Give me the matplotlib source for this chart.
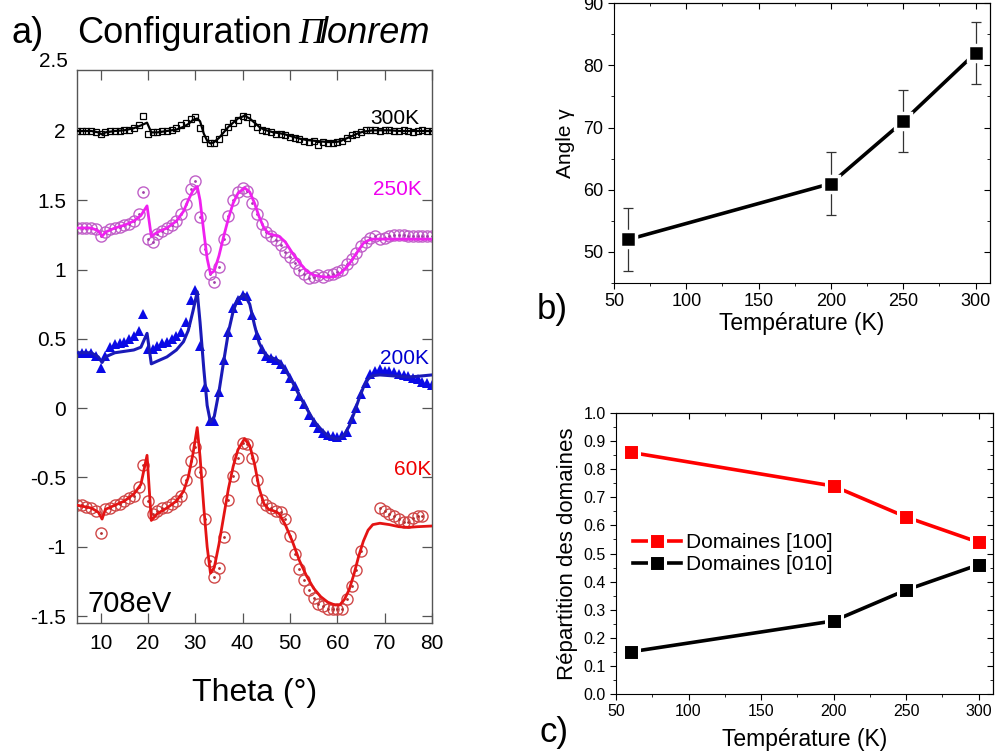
import numpy as np
import matplotlib.pyplot as plt
from matplotlib.ticker import MultipleLocator

plt.rcParams['font.family'] = ['Liberation Sans', 'DejaVu Sans']
nan = np.nan

# ---- panel a : rocking curves at 708 eV ----
theta_pts = [5, 6, 7, 8, 9, 10, 11, 12, 13, 14,
             15, 16, 17, 18, 19, 20, 21, 22, 23, 24,
             25, 26, 27, 28, 29, 30, 31, 32, 33, 34,
             35, 36, 37, 38, 39, 40, 41, 42, 43, 44,
             45, 46, 47, 48, 49, 50, 51, 52, 53, 54,
             55, 56, 57, 58, 59, 60, 61, 62, 63, 64,
             65, 66, 67, 68, 69, 70, 71, 72, 73, 74,
             75, 76, 77, 78, 79, 80]

pts_300 = [2.00, 2.00, 2.00, 2.00, 1.99, 1.975, 1.99, 2.00, 2.00, 2.00,
           2.01, 2.01, 2.02, 2.04, 2.11, 1.98, 1.99, 1.99, 2.00, 2.00,
           2.01, 2.02, 2.04, 2.06, 2.09, 2.10, 2.02, 1.94, 1.91, 1.91,
           1.94, 1.99, 2.03, 2.06, 2.08, 2.11, 2.10, 2.06, 2.03, 2.01,
           2.00, 1.99, 1.98, 1.98, 1.97, 1.96, 1.95, 1.94, 1.93, 1.92,
           1.93, 1.90, 1.92, 1.91, 1.915, 1.92, 1.93, 1.95, 1.97, 1.98,
           1.99, 2.01, 2.01, 2.01, 2.00, 2.01, 2.01, 2.00, 2.00, 2.01,
           2.00, 1.99, 2.00, 2.01, 2.00, 2.00]

pts_250 = [1.30, 1.30, 1.30, 1.30, 1.29, 1.24, 1.27, 1.29, 1.30, 1.31,
           1.32, 1.33, 1.35, 1.40, 1.56, 1.22, 1.20, 1.26, 1.28, 1.30,
           1.32, 1.35, 1.40, 1.47, 1.58, 1.64, 1.38, 1.15, 0.97, 0.91,
           1.02, 1.22, 1.39, 1.50, 1.56, 1.59, 1.57, 1.48, 1.40, 1.33,
           1.27, 1.24, 1.21, 1.18, 1.13, 1.09, 1.05, 1.00, 0.97, 0.94,
           0.95, 0.96, 0.95, 0.96, 0.97, 0.98, 1.00, 1.04, 1.08, 1.12,
           1.17, 1.20, 1.23, 1.24, 1.22, 1.23, 1.24, 1.25, 1.25, 1.25,
           1.24, 1.24, 1.24, 1.24, 1.24, 1.24]

pts_200 = [0.40, 0.40, 0.40, 0.40, 0.38, 0.29, 0.38, 0.44, 0.46, 0.47,
           0.48, 0.50, 0.52, 0.56, 0.68, 0.43, 0.43, 0.45, 0.47, 0.48,
           0.50, 0.52, 0.55, 0.62, 0.78, 0.85, 0.45, 0.15, -0.09, -0.09,
           0.12, 0.35, 0.55, 0.72, 0.78, 0.82, 0.81, 0.67, 0.53, 0.43,
           0.38, 0.36, 0.35, 0.32, 0.28, 0.22, 0.16, 0.09, 0.03, -0.05,
           -0.10, -0.14, -0.18, -0.19, -0.20, -0.21, -0.19, -0.17, -0.08, 0.00,
           0.10, 0.18, 0.25, 0.27, 0.28, 0.27, 0.27, 0.26, 0.25, 0.24,
           0.23, 0.22, 0.21, 0.19, 0.18, 0.17]

pts_60 = [-0.70, -0.70, -0.71, -0.72, -0.74, -0.90, -0.73, -0.72, -0.70, -0.69,
          -0.67, -0.65, -0.63, -0.57, -0.41, -0.67, -0.76, -0.74, -0.72, -0.71,
          -0.69, -0.67, -0.63, -0.52, -0.38, -0.28, -0.46, -0.80, -1.10, -1.22,
          -1.15, -0.93, -0.66, -0.49, -0.36, -0.25, -0.26, -0.36, -0.52, -0.66,
          -0.70, -0.72, -0.74, -0.75, -0.80, -0.92, -1.05, -1.16, -1.24, -1.31,
          -1.37, -1.41, -1.43, -1.45, -1.45, -1.45, -1.45, -1.38, -1.28, -1.17,
          -1.03, nan, nan, nan, -0.72, -0.74, -0.76, -0.78, -0.80, -0.82,
          -0.82, -0.79, -0.78, -0.78, nan, nan]

theta_fit = [5, 8, 9.5, 10.3, 11, 13, 15, 17, 18.5, 19.8,
             20.7, 22, 24, 26, 27.5, 28.5, 29.5, 30.4, 31, 31.8,
             32.5, 33.2, 34, 35, 36, 37, 38, 39, 40.4, 41.5,
             42.5, 43.5, 44.5, 45.5, 46.5, 47.7, 49, 50.5, 52, 53.5,
             55, 56.5, 58, 59.5, 60.5, 61.5, 62.5, 63.5, 64.5, 65.5,
             66.5, 67.5, 69, 71, 73, 75, 77, 80]

fit_300 = [2.00, 2.00, 1.99, 1.975, 1.99, 2.00, 2.005, 2.02, 2.04, 2.06,
           1.99, 1.99, 2.00, 2.01, 2.03, 2.05, 2.08, 2.09, 2.07, 1.98,
           1.93, 1.91, 1.92, 1.95, 1.99, 2.03, 2.06, 2.09, 2.11, 2.09,
           2.06, 2.03, 2.01, 2.00, 1.99, 1.985, 1.975, 1.96, 1.945, 1.935,
           1.93, 1.925, 1.92, 1.92, 1.925, 1.94, 1.955, 1.97, 1.985, 1.995,
           2.00, 2.005, 2.005, 2.005, 2.00, 2.00, 2.00, 2.00]

fit_250 = [1.30, 1.30, 1.28, 1.24, 1.27, 1.30, 1.32, 1.35, 1.39, 1.46,
           1.24, 1.27, 1.30, 1.35, 1.42, 1.50, 1.57, 1.60, 1.50, 1.27,
           1.08, 0.97, 0.99, 1.10, 1.24, 1.37, 1.48, 1.55, 1.59, 1.56,
           1.48, 1.38, 1.30, 1.26, 1.25, 1.24, 1.20, 1.12, 1.05, 0.99,
           0.96, 0.95, 0.945, 0.95, 0.97, 1.00, 1.04, 1.09, 1.14, 1.19,
           1.21, 1.22, 1.22, 1.22, 1.22, 1.22, 1.22, 1.22]

fit_200 = [0.40, 0.40, 0.37, 0.33, 0.37, 0.40, 0.41, 0.42, 0.44, 0.54,
           0.32, 0.34, 0.37, 0.42, 0.48, 0.56, 0.70, 0.84, 0.62, 0.28,
           0.02, -0.10, -0.06, 0.12, 0.34, 0.55, 0.70, 0.79, 0.82, 0.75,
           0.60, 0.47, 0.40, 0.37, 0.36, 0.34, 0.28, 0.19, 0.09, 0.00,
           -0.09, -0.15, -0.20, -0.22, -0.22, -0.19, -0.13, -0.04, 0.06, 0.15,
           0.21, 0.235, 0.24, 0.235, 0.23, 0.225, 0.23, 0.24]

fit_60 = [-0.70, -0.72, -0.75, -0.80, -0.73, -0.70, -0.67, -0.62, -0.55, -0.34,
          -0.81, -0.76, -0.72, -0.67, -0.60, -0.50, -0.33, -0.14, -0.35, -0.72,
          -1.00, -1.19, -1.15, -0.98, -0.78, -0.58, -0.42, -0.30, -0.22, -0.27,
          -0.40, -0.58, -0.69, -0.73, -0.74, -0.76, -0.84, -0.96, -1.10, -1.21,
          -1.30, -1.36, -1.40, -1.42, -1.42, -1.38, -1.31, -1.20, -1.07, -0.96,
          -0.88, -0.84, -0.83, -0.84, -0.855, -0.86, -0.855, -0.85]

# ---- panels b and c ----
temps = [60, 200, 250, 300]
angle = [52, 61, 71, 82]
angle_err = [5, 5, 5, 5]
dom_100 = [0.86, 0.74, 0.63, 0.54]
dom_010 = [0.15, 0.26, 0.37, 0.46]

fig = plt.figure(figsize=(9.96, 7.56), dpi=100)

# title of panel a
fig.text(0.012, 0.943, "a)", fontsize=26, va='baseline')
fig.text(0.0773, 0.943, "Configuration", fontsize=26, va='baseline')
fig.text(0.2995, 0.943, "\u03a0", fontsize=26, va='baseline',
         family='Liberation Serif', style='italic')
fig.text(0.3205, 0.943, "lonrem", fontsize=26, va='baseline', style='italic')

# ---------------- panel a ----------------
ax = fig.add_axes([0.0773, 0.1759, 0.3564, 0.7315])
grey = '#555555'

ax.plot(theta_fit, fit_300, color='black', lw=1.6, zorder=3)
ax.plot(theta_pts, pts_300, ls='none', marker='s', ms=4.5, mfc='none',
        mec='black', mew=0.9, zorder=2)

ax.plot(theta_fit, fit_250, color='#f020f0', lw=2.0, zorder=3)
ax.plot(theta_pts, pts_250, ls='none', marker='o', ms=8, mfc='none',
        mec='#c060c8', mew=1.0, zorder=2)
ax.plot(theta_pts, pts_250, ls='none', marker='.', ms=2, color='#a040a8', zorder=2)

ax.plot(theta_fit, fit_200, color='#1a1ab8', lw=2.2, zorder=3)
ax.plot(theta_pts, pts_200, ls='none', marker='^', ms=7.5, color='#0a0ae6',
        mew=0, zorder=2)

ax.plot(theta_fit, fit_60, color='#e41414', lw=2.0, zorder=3)
ax.plot(theta_pts, pts_60, ls='none', marker='o', ms=8, mfc='none',
        mec='#d04848', mew=1.0, zorder=2)
ax.plot(theta_pts, pts_60, ls='none', marker='.', ms=2, color='#b03030', zorder=2)

ax.text(72.1, 2.087, "300K", fontsize=15, ha='center', va='center', color='black')
ax.text(72.7, 1.58, "250K", fontsize=15, ha='center', va='center', color='#ee00ee')
ax.text(74.2, 0.355, "200K", fontsize=15, ha='center', va='center', color='#0000d0')
ax.text(75.9, -0.44, "60K", fontsize=15, ha='center', va='center', color='#ee0000')
ax.text(7.3, -1.41, "708eV", fontsize=21, ha='left', va='center', color='black')

ax.set_xlim(5, 80)
ax.set_ylim(-1.55, 2.44)
ax.set_xticks([10, 20, 30, 40, 50, 60, 70, 80])
ax.set_yticks([-1.5, -1, -0.5, 0, 0.5, 1, 1.5, 2])
ax.set_yticklabels(['-1.5', '-1', '-0.5', '0', '0.5', '1', '1.5', '2'])
ax.text(-0.025, 2.5, "2.5", fontsize=15, ha='right', va='center',
        transform=ax.get_yaxis_transform())
ax.tick_params(direction='in', length=7, width=0.9, color=grey,
               top=True, right=True, labelsize=15, pad=8)
for s in ax.spines.values():
    s.set_color(grey)
    s.set_linewidth(1.0)
ax.set_xlabel("Theta (\u00b0)", fontsize=23, labelpad=18)

# ---------------- panel b ----------------
axb = fig.add_axes([0.6165, 0.6257, 0.3775, 0.370])
axb.errorbar(temps, angle, yerr=angle_err, fmt='none', ecolor='#333333',
             elinewidth=0.9, capsize=3.5, capthick=0.9, zorder=2)
axb.plot(temps, angle, color='black', lw=2.6, marker='s', ms=12, mfc='black',
         mec='white', mew=2.5, zorder=3)
axb.set_xlim(50, 310)
axb.set_ylim(45, 90)
axb.set_xticks([50, 100, 150, 200, 250, 300])
axb.set_yticks([50, 60, 70, 80, 90])
axb.xaxis.set_minor_locator(MultipleLocator(25))
axb.yaxis.set_minor_locator(MultipleLocator(5))
axb.tick_params(which='major', direction='out', length=4, labelsize=13)
axb.tick_params(which='minor', direction='out', length=2.5)
axb.set_xlabel("Temp\u00e9rature (K)", fontsize=16.5, labelpad=1)
axb.set_ylabel("Angle \u03b3", fontsize=15, labelpad=6)

# ---------------- panel c ----------------
axc = fig.add_axes([0.6185, 0.082, 0.3785, 0.3717])
axc.plot(temps, dom_100, color='#ff0000', lw=2.6, marker='s', ms=11,
         mfc='#ff0000', mec='white', mew=2.2, label="Domaines [100]")
axc.plot(temps, dom_010, color='black', lw=2.6, marker='s', ms=11,
         mfc='black', mec='white', mew=2.2, label="Domaines [010]")
axc.set_xlim(50, 310)
axc.set_ylim(0, 1.0)
axc.set_xticks([50, 100, 150, 200, 250, 300])
axc.set_yticks(np.round(np.arange(0, 1.01, 0.1), 1))
axc.xaxis.set_minor_locator(MultipleLocator(25))
axc.yaxis.set_minor_locator(MultipleLocator(0.05))
axc.tick_params(which='major', direction='out', length=4, labelsize=11.5)
axc.tick_params(which='minor', direction='out', length=2.5)
axc.set_xlabel("Temp\u00e9rature (K)", fontsize=16.5, labelpad=6)
axc.set_ylabel("R\u00e9partition des domaines", fontsize=16, labelpad=4)
axc.legend(loc='upper left', bbox_to_anchor=(-0.005, 0.64), frameon=False,
           fontsize=15, handlelength=2.3, handletextpad=0.25, labelspacing=0.15)

# mirrored inward ticks on top / right for b and c
for a in (axb, axc):
    top = a.secondary_xaxis('top')
    top.set_xticks(a.get_xticks())
    top.xaxis.set_minor_locator(MultipleLocator(25))
    top.tick_params(which='major', direction='in', length=4, labeltop=False)
    top.tick_params(which='minor', direction='in', length=2.5)
    right = a.secondary_yaxis('right')
    right.set_yticks(a.get_yticks())
    right.yaxis.set_minor_locator(a.yaxis.get_minor_locator())
    right.tick_params(which='major', direction='in', length=4, labelright=False)
    right.tick_params(which='minor', direction='in', length=2.5)

fig.text(0.539, 0.59, "b)", fontsize=25, ha='left', va='center')
fig.text(0.542, 0.031, "c)", fontsize=25, ha='left', va='center')

fig.savefig("out.png", dpi=100)
